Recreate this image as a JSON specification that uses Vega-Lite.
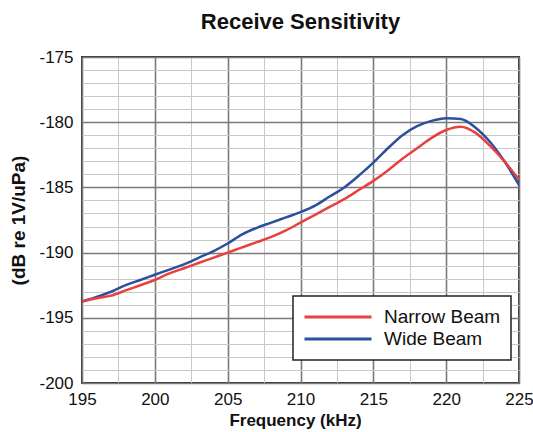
{
  "$schema": "https://vega.github.io/schema/vega-lite/v6.json",
  "autosize": "none",
  "width": 437,
  "height": 326,
  "padding": {"left": 82, "top": 57, "right": 14, "bottom": 49},
  "background": "white",
  "config": {
    "font": "Liberation Sans",
    "view": {"stroke": "#333333", "strokeWidth": 2}
  },
  "title": {
    "text": "Receive Sensitivity",
    "fontSize": 22,
    "fontWeight": "bold",
    "color": "#111111",
    "frame": "group",
    "anchor": "middle",
    "baseline": "alphabetic",
    "offset": -3
  },
  "data": {
    "values": [
      {"f": 195, "s": "Wide Beam", "v": -193.75},
      {"f": 196, "s": "Wide Beam", "v": -193.4},
      {"f": 197, "s": "Wide Beam", "v": -193.0},
      {"f": 198, "s": "Wide Beam", "v": -192.5},
      {"f": 199, "s": "Wide Beam", "v": -192.1},
      {"f": 200, "s": "Wide Beam", "v": -191.7},
      {"f": 201, "s": "Wide Beam", "v": -191.3},
      {"f": 202, "s": "Wide Beam", "v": -190.9},
      {"f": 203, "s": "Wide Beam", "v": -190.4},
      {"f": 204, "s": "Wide Beam", "v": -189.9},
      {"f": 205, "s": "Wide Beam", "v": -189.3},
      {"f": 206, "s": "Wide Beam", "v": -188.6},
      {"f": 207, "s": "Wide Beam", "v": -188.1},
      {"f": 208, "s": "Wide Beam", "v": -187.7},
      {"f": 209, "s": "Wide Beam", "v": -187.3},
      {"f": 210, "s": "Wide Beam", "v": -186.9},
      {"f": 211, "s": "Wide Beam", "v": -186.4},
      {"f": 212, "s": "Wide Beam", "v": -185.7},
      {"f": 213, "s": "Wide Beam", "v": -185.0},
      {"f": 214, "s": "Wide Beam", "v": -184.1},
      {"f": 215, "s": "Wide Beam", "v": -183.1},
      {"f": 216, "s": "Wide Beam", "v": -182.0},
      {"f": 217, "s": "Wide Beam", "v": -181.0},
      {"f": 218, "s": "Wide Beam", "v": -180.3},
      {"f": 219, "s": "Wide Beam", "v": -179.9},
      {"f": 220, "s": "Wide Beam", "v": -179.7},
      {"f": 221, "s": "Wide Beam", "v": -179.75},
      {"f": 222, "s": "Wide Beam", "v": -180.4},
      {"f": 223, "s": "Wide Beam", "v": -181.5},
      {"f": 224, "s": "Wide Beam", "v": -183.0},
      {"f": 225, "s": "Wide Beam", "v": -184.8},
      {"f": 195, "s": "Narrow Beam", "v": -193.75},
      {"f": 196, "s": "Narrow Beam", "v": -193.5},
      {"f": 197, "s": "Narrow Beam", "v": -193.3},
      {"f": 198, "s": "Narrow Beam", "v": -192.9},
      {"f": 199, "s": "Narrow Beam", "v": -192.5},
      {"f": 200, "s": "Narrow Beam", "v": -192.1},
      {"f": 201, "s": "Narrow Beam", "v": -191.6},
      {"f": 202, "s": "Narrow Beam", "v": -191.2},
      {"f": 203, "s": "Narrow Beam", "v": -190.8},
      {"f": 204, "s": "Narrow Beam", "v": -190.4},
      {"f": 205, "s": "Narrow Beam", "v": -190.0},
      {"f": 206, "s": "Narrow Beam", "v": -189.6},
      {"f": 207, "s": "Narrow Beam", "v": -189.2},
      {"f": 208, "s": "Narrow Beam", "v": -188.8},
      {"f": 209, "s": "Narrow Beam", "v": -188.3},
      {"f": 210, "s": "Narrow Beam", "v": -187.7},
      {"f": 211, "s": "Narrow Beam", "v": -187.1},
      {"f": 212, "s": "Narrow Beam", "v": -186.5},
      {"f": 213, "s": "Narrow Beam", "v": -185.9},
      {"f": 214, "s": "Narrow Beam", "v": -185.2},
      {"f": 215, "s": "Narrow Beam", "v": -184.5},
      {"f": 216, "s": "Narrow Beam", "v": -183.7},
      {"f": 217, "s": "Narrow Beam", "v": -182.8},
      {"f": 218, "s": "Narrow Beam", "v": -182.0},
      {"f": 219, "s": "Narrow Beam", "v": -181.2},
      {"f": 220, "s": "Narrow Beam", "v": -180.6},
      {"f": 221, "s": "Narrow Beam", "v": -180.35},
      {"f": 222, "s": "Narrow Beam", "v": -180.8},
      {"f": 223, "s": "Narrow Beam", "v": -181.8},
      {"f": 224, "s": "Narrow Beam", "v": -183.0},
      {"f": 225, "s": "Narrow Beam", "v": -184.4}
    ]
  },
  "mark": {"type": "line", "strokeWidth": 2.5, "interpolate": "monotone", "clip": true},
  "encoding": {
    "x": {
      "field": "f",
      "type": "quantitative",
      "scale": {"domain": [195, 225], "nice": false, "zero": false},
      "axis": {
        "title": "Frequency (kHz)",
        "values": [195, 197.5, 200, 202.5, 205, 207.5, 210, 212.5, 215, 217.5, 220, 222.5, 225],
        "labelExpr": "datum.value % 5 === 0 ? '' + datum.value : ''",
        "labelFontSize": 17,
        "labelColor": "#111111",
        "labelPadding": 8,
        "labelFlush": false,
        "labelOverlap": false,
        "ticks": false,
        "domain": false,
        "grid": true,
        "gridColor": {"condition": {"test": "datum.value % 5 === 0", "value": "#7a7a7a"}, "value": "#c8c8c8"},
        "gridWidth": {"condition": {"test": "datum.value % 5 === 0", "value": 1.6}, "value": 1},
        "titleFontSize": 17,
        "titleFontWeight": "bold",
        "titleColor": "#111111",
        "titlePadding": 5,
        "titleX": 213,
        "titleAlign": "center"
      }
    },
    "y": {
      "field": "v",
      "type": "quantitative",
      "scale": {"domain": [-200, -175], "nice": false, "zero": false},
      "axis": {
        "title": "(dB re 1V/uPa)",
        "values": [-200, -199, -198, -197, -196, -195, -194, -193, -192, -191, -190, -189, -188, -187, -186, -185, -184, -183, -182, -181, -180, -179, -178, -177, -176, -175],
        "labelExpr": "datum.value % 5 === 0 ? '' + datum.value : ''",
        "labelFontSize": 17,
        "labelColor": "#111111",
        "labelPadding": 9,
        "labelFlush": false,
        "labelOverlap": false,
        "ticks": false,
        "domain": false,
        "grid": true,
        "gridColor": {"condition": {"test": "datum.value % 5 === 0", "value": "#7a7a7a"}, "value": "#c8c8c8"},
        "gridWidth": {"condition": {"test": "datum.value % 5 === 0", "value": 1.6}, "value": 1},
        "titleFontSize": 19,
        "titleFontWeight": "bold",
        "titleColor": "#111111",
        "titleAngle": 270,
        "titleX": -64,
        "titleY": 163,
        "titleAlign": "center",
        "titleBaseline": "middle"
      }
    },
    "color": {
      "field": "s",
      "type": "nominal",
      "scale": {"domain": ["Narrow Beam", "Wide Beam"], "range": ["#e8403f", "#2c4f9e"]},
      "legend": {
        "title": null,
        "orient": "none",
        "legendX": 211,
        "legendY": 239,
        "symbolType": "stroke",
        "symbolSize": 4489,
        "symbolStrokeWidth": 3,
        "clipHeight": 22,
        "rowPadding": 0,
        "labelFontSize": 19,
        "labelColor": "#111111",
        "labelOffset": 11,
        "padding": 10,
        "fillColor": "white",
        "strokeColor": "#222222",
        "encode": {"legend": {"update": {"strokeWidth": {"value": 1.5}}}}
      }
    }
  }
}
